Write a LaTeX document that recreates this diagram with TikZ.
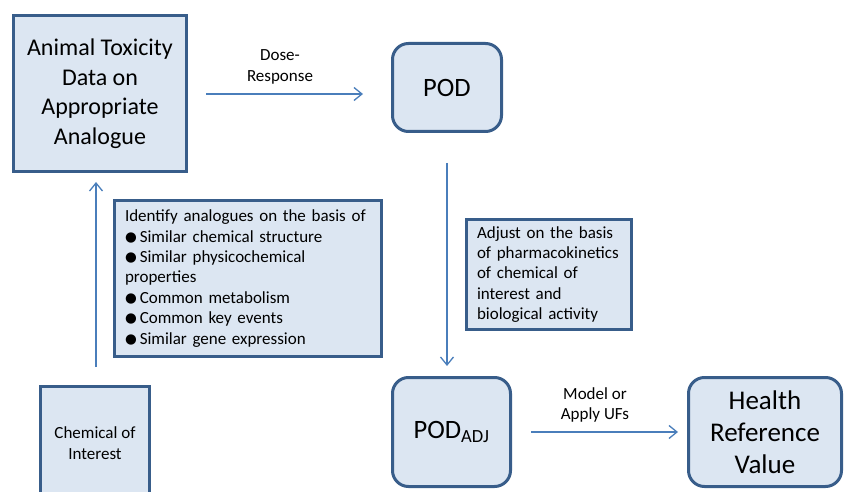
\documentclass[tikz,border=0pt]{standalone}
\usepackage{fontspec}
\setmainfont{Carlito}
\newfontfamily\symfont{DejaVu Sans}
\usetikzlibrary{arrows.meta,calc}
\definecolor{boxfill}{HTML}{DCE6F2}
\definecolor{boxline}{HTML}{385D8A}
\definecolor{arrline}{HTML}{4A7EBB}
\newcommand\bul{\raisebox{1pt}{\symfont\fontsize{13.5}{13.5}\selectfont ●}\hspace{3pt}}
\tikzset{
  box/.style={draw=boxline, fill=boxfill, line width=3pt, inner sep=0pt, align=center},
  rbox/.style={box, rounded corners=16pt},
  bigtext/.style={font=\fontsize{24}{29.5}\selectfont},
  hugetext/.style={font=\fontsize{27}{32}\selectfont},
  smalltext/.style={font=\fontsize{17}{20.4}\selectfont},
  arr/.style={draw=arrline, line width=1.4pt, -{Straight Barb[length=8pt,width=13pt,line width=1.3pt]}},
  lbl/.style={smalltext, align=center, inner sep=0pt}
}
\begin{document}
\begin{tikzpicture}[x=1pt,y=-1pt]
\useasboundingbox (0,0) rectangle (844,492);
\clip (0,0) rectangle (844,492);
\node[box, bigtext, minimum width=173pt, minimum height=156pt] (animal) at (100,93.5)
  {Animal Toxicity\\Data on\\Appropriate\\Analogue};
\node[rbox, font=\fontsize{26.5}{32}\selectfont, minimum width=109pt, minimum height=88pt] (pod) at (447,87.5) {POD};
\node[box, smalltext, align=left, text width=246pt, inner xsep=10.5pt, minimum height=156pt] (ident) at (248,278.5)
  {Identify analogues on the basis of\\
   \bul Similar chemical structure\\
   \bul Similar physicochemical\\
   properties\\
   \bul Common metabolism\\
   \bul Common key events\\
   \bul Similar gene expression};
\node[box, smalltext, align=left, text width=144pt, inner xsep=10.5pt, minimum height=110pt] (adjust) at (549,274.5)
  {Adjust on the basis\\of pharmacokinetics\\of chemical of\\interest and\\biological activity};
\node[box, smalltext, minimum width=109pt, minimum height=113pt] (chem) at (95,443) {Chemical of\\Interest};
\node[rbox, font=\fontsize{26.5}{32}\selectfont, minimum width=118pt, minimum height=109pt] (podadj) at (451.5,432) {POD\textsubscript{ADJ}};
\node[rbox, hugetext, minimum width=153pt, minimum height=109pt] (health) at (765,432) {Health\\Reference\\Value};
\node[lbl] (doselbl) at (280,67) {Dose-\\Response};
\node[lbl] (modellbl) at (595,405) {Model or\\Apply UFs};
\draw[arr, shorten <=18pt, shorten >=28pt] (animal.east |- 0,94) -- (pod.west |- 0,94);
\draw[arr, shorten <=18pt, shorten >=9pt] (chem.north -| 96,0) -- (animal.south -| 96,0);
\draw[arr, shorten <=30pt, shorten >=10pt] (pod.south) -- (pod.south |- podadj.north);
\draw[arr, shorten <=19pt, shorten >=9pt] (podadj.east) -- (health.west);
\end{tikzpicture}
\end{document}
